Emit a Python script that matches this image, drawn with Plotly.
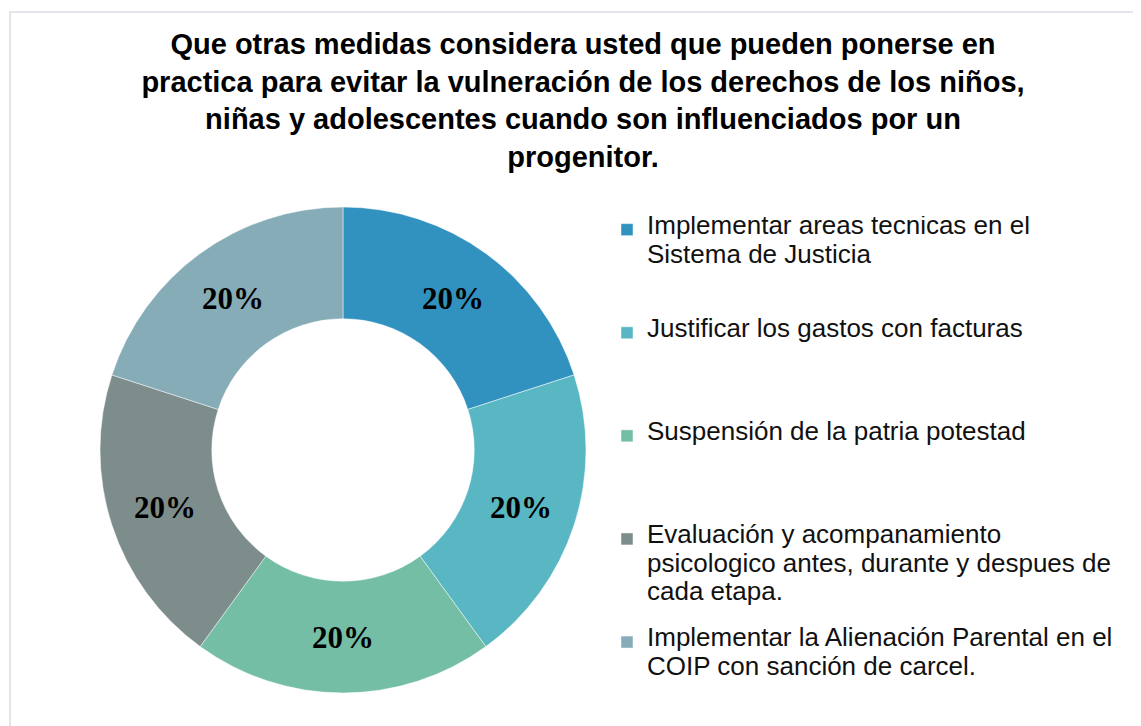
import plotly.graph_objects as go

# ---- data ----
categories = [
    "Implementar areas tecnicas en el\nSistema de Justicia",
    "Justificar los gastos con facturas",
    "Suspensión de la patria potestad",
    "Evaluación y acompanamiento\npsicologico antes, durante y despues de\ncada etapa.",
    "Implementar la Alienación Parental en el\nCOIP con sanción de carcel.",
]
values = [20, 20, 20, 20, 20]
colors = ["#3192c0", "#59b7c3", "#74bea6", "#7c8d8b", "#85acb7"]

title_text = ("Que otras medidas considera usted que pueden ponerse en<br>"
              "practica para evitar la vulneración de los derechos de los niños,<br>"
              "niñas y adolescentes cuando son influenciados por un<br>"
              "progenitor.")

W, H = 1141, 726
LEG_FONT_PX = 26      # visible legend text size
SLOT_LINES = 7        # layout lines per legend entry


def legend_label(cat, last):
    lines = cat.split("\n")
    parts = ['<span style="font-size:%dpx">%s</span>' % (LEG_FONT_PX, ln) for ln in lines]
    txt = "<br><br>".join(parts)
    used = 2 * len(lines) - 1
    if not last:
        txt += "<br>" * (SLOT_LINES - used)
    return txt


labels = [legend_label(c, i == len(categories) - 1) for i, c in enumerate(categories)]

# donut geometry (pixels, page offset compensated)
cx, cy, R = 335, 442, 243
fig = go.Figure(
    go.Pie(
        labels=labels,
        values=values,
        sort=False,
        direction="clockwise",
        rotation=0,
        hole=0.54,
        marker=dict(colors=colors, line=dict(color="rgba(255,255,255,0.6)", width=0.8)),
        textinfo="percent",
        textposition="inside",
        insidetextorientation="horizontal",
        textfont=dict(family="Liberation Serif, Times New Roman, serif", size=31,
                      color="#000000", weight="bold"),
        domain=dict(x=[(cx - R) / W, (cx + R) / W],
                    y=[(H - cy - R) / H, (H - cy + R) / H]),
        showlegend=True,
        hoverinfo="label+percent",
    )
)

fig.update_layout(
    width=W,
    height=H,
    margin=dict(l=0, r=0, t=0, b=0, autoexpand=False),
    paper_bgcolor="#ffffff",
    plot_bgcolor="#ffffff",
    title=dict(
        text=title_text,
        x=575 / W,
        xanchor="center",
        xref="paper",
        y=1 - 46 / H,
        yanchor="top",
        yref="container",
        font=dict(family="Liberation Sans, Arial, sans-serif", size=29,
                  color="#000000", weight="bold"),
    ),
    legend=dict(
        x=599 / W,
        xanchor="left",
        y=1 - 208 / H,
        yanchor="top",
        valign="top",
        font=dict(family="Liberation Sans, Arial, sans-serif", size=11, color="#111111"),
        bgcolor="rgba(0,0,0,0)",
        traceorder="normal",
    ),
    shapes=[
        dict(type="rect", xref="paper", yref="paper",
             x0=2 / W, x1=1.02, y0=-0.03, y1=1 - 4 / H,
             line=dict(color="#dcdce6", width=1.5), fillcolor="rgba(0,0,0,0)",
             layer="below"),
    ],
)

fig.write_html("out.html")
